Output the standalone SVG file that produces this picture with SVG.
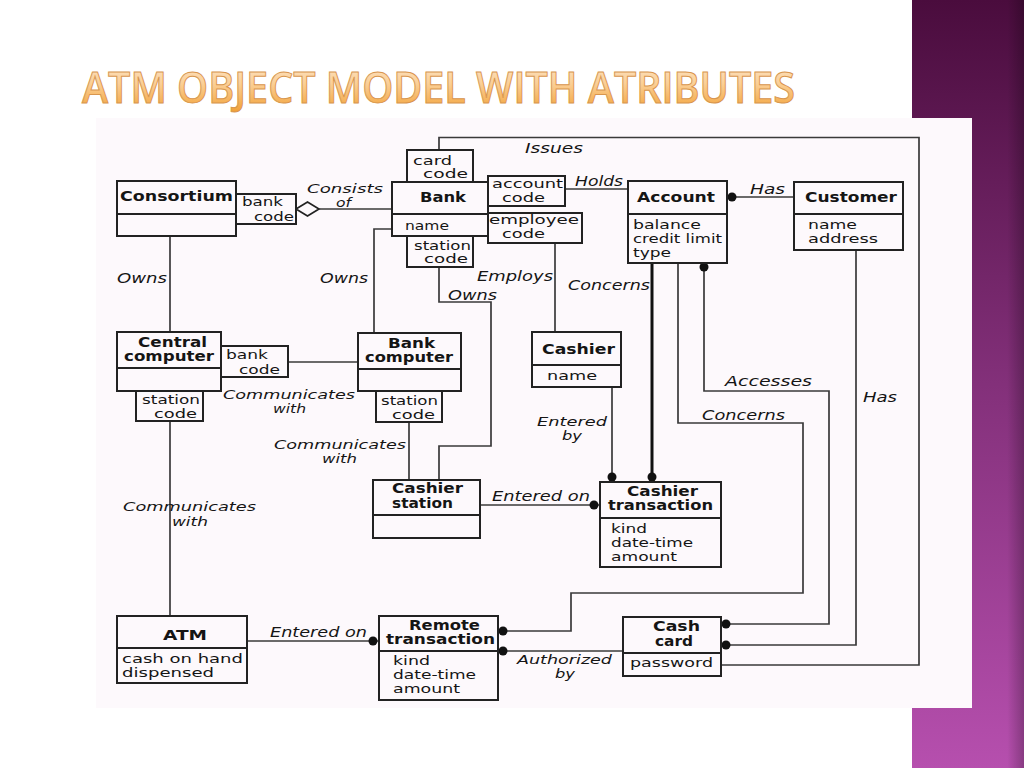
<svg xmlns="http://www.w3.org/2000/svg" width="1024" height="768" viewBox="0 0 1024 768">
<defs>
<linearGradient id="purple" x1="0" y1="0" x2="0" y2="1">
<stop offset="0" stop-color="#4a0c3d"/>
<stop offset="0.5" stop-color="#83307a"/>
<stop offset="1" stop-color="#b64fae"/>
</linearGradient>
<linearGradient id="edge" x1="0" y1="0" x2="1" y2="0">
<stop offset="0" stop-color="#000" stop-opacity="0"/>
<stop offset="0.85" stop-color="#000" stop-opacity="0"/>
<stop offset="1" stop-color="#000" stop-opacity="0.25"/>
</linearGradient>
<linearGradient id="title" x1="0" y1="0" x2="0" y2="1">
<stop offset="0" stop-color="#fde9d2"/>
<stop offset="0.45" stop-color="#fbcf96"/>
<stop offset="1" stop-color="#f09a28"/>
</linearGradient>
<style>
.box{fill:#fdf9fc;stroke:#222;stroke-width:2}
.ln{fill:none;stroke:#3a3a3a;stroke-width:1.7}
.dv{fill:none;stroke:#222;stroke-width:2}
.thick{fill:none;stroke:#111;stroke-width:3}
.dot{fill:#111}
text{font-family:"DejaVu Sans","Liberation Sans",sans-serif;fill:#151515}
.b{font-weight:bold;font-size:13.5px}
.r{font-size:12.5px}
.i{font-style:italic;font-size:13.5px}
.i2{font-style:italic;font-size:12.5px}
.t{font-family:"Open Sans","DejaVu Sans",sans-serif;font-weight:600;font-size:43px;fill:url(#title);stroke:#d8964f;stroke-width:1}
</style>
</defs>
<rect x="0" y="0" width="1024" height="768" fill="#ffffff"/>
<rect x="912" y="0" width="112" height="768" fill="url(#purple)"/>
<rect x="912" y="0" width="112" height="768" fill="url(#edge)"/>
<text class="t" x="82" y="103" textLength="713" lengthAdjust="spacingAndGlyphs">ATM OBJECT MODEL WITH ATRIBUTES</text>
<rect x="96" y="118" width="876" height="590" fill="#fdf9fc"/>

<g id="connectors">
<polygon points="296,209 307.5,202 319,209 307.5,216" fill="#fdf9fc" stroke="#222" stroke-width="1.7"/>
<path class="ln" d="M319 209 H392"/>
<path class="ln" d="M439 150 V137.5 H919 V665 H721"/>
<path class="ln" d="M565 189 H628"/>
<path class="ln" d="M727 197 H794"/>
<circle class="dot" cx="732" cy="197" r="4.5"/>
<path class="ln" d="M856 250 V645 H721"/>
<circle class="dot" cx="726" cy="645" r="4.5"/>
<path class="ln" d="M704 263 V391 H829 V624 H721"/>
<circle class="dot" cx="704" cy="267" r="4.5"/>
<circle class="dot" cx="726" cy="624" r="4.5"/>
<path class="ln" d="M678 263 V423 H803 V593 H571 V631 H498"/>
<circle class="dot" cx="503" cy="631" r="4.5"/>
<path class="thick" d="M652 263 V482"/>
<circle class="dot" cx="652" cy="477" r="4.5"/>
<path class="ln" d="M555 243 V332"/>
<path class="ln" d="M612 387 V482"/>
<circle class="dot" cx="612" cy="477" r="4.5"/>
<path class="ln" d="M480 505 H600"/>
<circle class="dot" cx="594" cy="505" r="4.5"/>
<path class="ln" d="M439 267 V302 H491 V446 H439 V480"/>
<path class="ln" d="M392 229 H374 V333"/>
<path class="ln" d="M170 236 V332"/>
<path class="ln" d="M288 362 H358"/>
<path class="ln" d="M409 422 V480"/>
<path class="ln" d="M170 421 V616"/>
<path class="ln" d="M247 641 H379"/>
<circle class="dot" cx="373" cy="641" r="4.5"/>
<path class="ln" d="M498 651 H623"/>
<circle class="dot" cx="503" cy="651" r="4.5"/>

<text class="i2" x="307" y="193" textLength="76" lengthAdjust="spacingAndGlyphs">Consists</text>
<text class="i2" x="336" y="207" textLength="15" lengthAdjust="spacingAndGlyphs">of</text>
<text class="i" x="525" y="152.5" textLength="58" lengthAdjust="spacingAndGlyphs">Issues</text>
<text class="i" x="575" y="185.5" textLength="48" lengthAdjust="spacingAndGlyphs">Holds</text>
<text class="i" x="750" y="193.8" textLength="35" lengthAdjust="spacingAndGlyphs">Has</text>
<text class="i" x="477" y="280.5" textLength="76" lengthAdjust="spacingAndGlyphs">Employs</text>
<text class="i" x="568" y="289.8" textLength="82" lengthAdjust="spacingAndGlyphs">Concerns</text>
<text class="i" x="448" y="299.5" textLength="49" lengthAdjust="spacingAndGlyphs">Owns</text>
<text class="i" x="117" y="282.8" textLength="50" lengthAdjust="spacingAndGlyphs">Owns</text>
<text class="i" x="320" y="282.8" textLength="48" lengthAdjust="spacingAndGlyphs">Owns</text>
<text class="i2" x="223" y="398.5" textLength="132" lengthAdjust="spacingAndGlyphs">Communicates</text>
<text class="i2" x="273" y="413" textLength="33" lengthAdjust="spacingAndGlyphs">with</text>
<text class="i2" x="274" y="449" textLength="132" lengthAdjust="spacingAndGlyphs">Communicates</text>
<text class="i2" x="322" y="463" textLength="35" lengthAdjust="spacingAndGlyphs">with</text>
<text class="i2" x="123" y="511" textLength="133" lengthAdjust="spacingAndGlyphs">Communicates</text>
<text class="i2" x="172" y="525.5" textLength="36" lengthAdjust="spacingAndGlyphs">with</text>
<text class="i" x="725" y="386" textLength="87" lengthAdjust="spacingAndGlyphs">Accesses</text>
<text class="i" x="863" y="402.2" textLength="34" lengthAdjust="spacingAndGlyphs">Has</text>
<text class="i" x="702" y="419.8" textLength="83" lengthAdjust="spacingAndGlyphs">Concerns</text>
<text class="i2" x="537" y="426" textLength="70" lengthAdjust="spacingAndGlyphs">Entered</text>
<text class="i2" x="562" y="440" textLength="20" lengthAdjust="spacingAndGlyphs">by</text>
<text class="i" x="492" y="500.5" textLength="98" lengthAdjust="spacingAndGlyphs">Entered on</text>
<text class="i" x="270" y="636.5" textLength="97" lengthAdjust="spacingAndGlyphs">Entered on</text>
<text class="i2" x="517" y="663.5" textLength="95" lengthAdjust="spacingAndGlyphs">Authorized</text>
<text class="i2" x="555" y="677.5" textLength="20" lengthAdjust="spacingAndGlyphs">by</text>
</g>

<g id="consortium">
<rect class="box" x="117" y="181" width="119" height="55"/>
<path class="dv" d="M117 214 H236"/>
<text class="b" x="120" y="201" textLength="113" lengthAdjust="spacingAndGlyphs">Consortium</text>
<rect class="box" x="236" y="194" width="60" height="30"/>
<text class="r" x="242" y="205.5" textLength="41" lengthAdjust="spacingAndGlyphs">bank</text>
<text class="r" x="254" y="220.5" textLength="40" lengthAdjust="spacingAndGlyphs">code</text>
</g>

<g id="bank">
<rect class="box" x="407" y="150" width="66" height="32"/>
<text class="r" x="413" y="164.5" textLength="39" lengthAdjust="spacingAndGlyphs">card</text>
<text class="r" x="423" y="178" textLength="45" lengthAdjust="spacingAndGlyphs">code</text>
<rect class="box" x="407" y="236" width="66" height="31"/>
<text class="r" x="414" y="249.5" textLength="57" lengthAdjust="spacingAndGlyphs">station</text>
<text class="r" x="424" y="263" textLength="44" lengthAdjust="spacingAndGlyphs">code</text>
<rect class="box" x="392" y="182" width="96" height="54"/>
<path class="dv" d="M392 214 H488"/>
<text class="b" x="420" y="201.5" textLength="46" lengthAdjust="spacingAndGlyphs">Bank</text>
<text class="r" x="405" y="229.7" textLength="44" lengthAdjust="spacingAndGlyphs">name</text>
<rect class="box" x="488" y="176" width="77" height="30"/>
<text class="r" x="492" y="187.5" textLength="71" lengthAdjust="spacingAndGlyphs">account</text>
<text class="r" x="502" y="201.5" textLength="43" lengthAdjust="spacingAndGlyphs">code</text>
<rect class="box" x="488" y="213" width="94" height="30"/>
<text class="r" x="489" y="224" textLength="90" lengthAdjust="spacingAndGlyphs">employee</text>
<text class="r" x="502" y="238" textLength="43" lengthAdjust="spacingAndGlyphs">code</text>
</g>

<g id="account">
<rect class="box" x="628" y="181" width="99" height="82"/>
<path class="dv" d="M628 214 H727"/>
<text class="b" x="637" y="201.5" textLength="78" lengthAdjust="spacingAndGlyphs">Account</text>
<text class="r" x="633" y="229" textLength="68" lengthAdjust="spacingAndGlyphs">balance</text>
<text class="r" x="633" y="242.8" textLength="89" lengthAdjust="spacingAndGlyphs">credit limit</text>
<text class="r" x="633" y="256.5" textLength="38" lengthAdjust="spacingAndGlyphs">type</text>
</g>

<g id="customer">
<rect class="box" x="794" y="182" width="109" height="68"/>
<path class="dv" d="M794 214 H903"/>
<text class="b" x="805" y="201.5" textLength="92" lengthAdjust="spacingAndGlyphs">Customer</text>
<text class="r" x="808" y="229" textLength="49" lengthAdjust="spacingAndGlyphs">name</text>
<text class="r" x="808" y="243" textLength="70" lengthAdjust="spacingAndGlyphs">address</text>
</g>

<g id="central-computer">
<rect class="box" x="117" y="332" width="104" height="59"/>
<path class="dv" d="M117 368 H221"/>
<text class="b" x="138" y="347" textLength="69" lengthAdjust="spacingAndGlyphs">Central</text>
<text class="b" x="124" y="361" textLength="90" lengthAdjust="spacingAndGlyphs">computer</text>
<rect class="box" x="221" y="346" width="67" height="31"/>
<text class="r" x="226" y="358.5" textLength="42" lengthAdjust="spacingAndGlyphs">bank</text>
<text class="r" x="239" y="374" textLength="41" lengthAdjust="spacingAndGlyphs">code</text>
<rect class="box" x="136" y="391" width="67" height="30"/>
<text class="r" x="142" y="403.5" textLength="58" lengthAdjust="spacingAndGlyphs">station</text>
<text class="r" x="154" y="418" textLength="43" lengthAdjust="spacingAndGlyphs">code</text>
</g>

<g id="bank-computer">
<rect class="box" x="358" y="333" width="103" height="58"/>
<path class="dv" d="M358 369 H461"/>
<text class="b" x="388" y="347.5" textLength="47" lengthAdjust="spacingAndGlyphs">Bank</text>
<text class="b" x="365" y="361.5" textLength="88" lengthAdjust="spacingAndGlyphs">computer</text>
<rect class="box" x="376" y="391" width="66" height="31"/>
<text class="r" x="381" y="404.5" textLength="57" lengthAdjust="spacingAndGlyphs">station</text>
<text class="r" x="392" y="418.5" textLength="43" lengthAdjust="spacingAndGlyphs">code</text>
</g>

<g id="cashier">
<rect class="box" x="532" y="332" width="89" height="55"/>
<path class="dv" d="M532 365 H621"/>
<text class="b" x="542" y="353.8" textLength="73" lengthAdjust="spacingAndGlyphs">Cashier</text>
<text class="r" x="547" y="380" textLength="50" lengthAdjust="spacingAndGlyphs">name</text>
</g>

<g id="cashier-station">
<rect class="box" x="373" y="480" width="107" height="58"/>
<path class="dv" d="M373 515 H480"/>
<text class="b" x="392" y="493" textLength="71" lengthAdjust="spacingAndGlyphs">Cashier</text>
<text class="b" x="392" y="508" textLength="61" lengthAdjust="spacingAndGlyphs">station</text>
</g>

<g id="cashier-transaction">
<rect class="box" x="600" y="482" width="121" height="85"/>
<path class="dv" d="M600 518 H721"/>
<text class="b" x="627" y="495.5" textLength="71" lengthAdjust="spacingAndGlyphs">Cashier</text>
<text class="b" x="608" y="509.5" textLength="105" lengthAdjust="spacingAndGlyphs">transaction</text>
<text class="r" x="611" y="532.5" textLength="36" lengthAdjust="spacingAndGlyphs">kind</text>
<text class="r" x="611" y="546.5" textLength="82" lengthAdjust="spacingAndGlyphs">date-time</text>
<text class="r" x="611" y="560.5" textLength="66" lengthAdjust="spacingAndGlyphs">amount</text>
</g>

<g id="atm">
<rect class="box" x="117" y="616" width="130" height="67"/>
<path class="dv" d="M117 648 H247"/>
<text class="b" x="163" y="639.5" textLength="44" lengthAdjust="spacingAndGlyphs">ATM</text>
<text class="r" x="122" y="663" textLength="121" lengthAdjust="spacingAndGlyphs">cash on hand</text>
<text class="r" x="122" y="676.5" textLength="92" lengthAdjust="spacingAndGlyphs">dispensed</text>
</g>

<g id="remote-transaction">
<rect class="box" x="379" y="616" width="119" height="84"/>
<path class="dv" d="M379 651 H498"/>
<text class="b" x="409" y="629.5" textLength="71" lengthAdjust="spacingAndGlyphs">Remote</text>
<text class="b" x="386" y="644" textLength="109" lengthAdjust="spacingAndGlyphs">transaction</text>
<text class="r" x="393" y="664.5" textLength="37" lengthAdjust="spacingAndGlyphs">kind</text>
<text class="r" x="393" y="679" textLength="83" lengthAdjust="spacingAndGlyphs">date-time</text>
<text class="r" x="393" y="693" textLength="67" lengthAdjust="spacingAndGlyphs">amount</text>
</g>

<g id="cash-card">
<rect class="box" x="623" y="617" width="98" height="59"/>
<path class="dv" d="M623 653 H721"/>
<text class="b" x="653" y="630.5" textLength="47" lengthAdjust="spacingAndGlyphs">Cash</text>
<text class="b" x="655" y="645.5" textLength="38" lengthAdjust="spacingAndGlyphs">card</text>
<text class="r" x="630" y="666.5" textLength="83" lengthAdjust="spacingAndGlyphs">password</text>
</g>
</svg>
